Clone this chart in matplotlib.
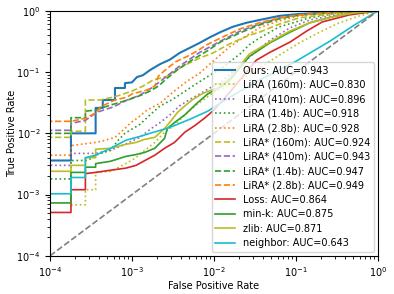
import matplotlib
matplotlib.use('Agg')
import matplotlib.pyplot as plt

# ROC curves (fpr, tpr pairs)
ours_fpr = [9e-5, 1.8e-4, 1.8e-4, 3.6e-4, 3.6e-4, 4.4e-4, 4.4e-4, 6.2e-4, 6.2e-4, 8.2e-4, 8.2e-4, 1.0e-3,
            1.15e-3, 1.36e-3, 1.66e-3, 2.2e-3, 2.9e-3, 3.8e-3, 5.1e-3, 6.7e-3, 8.9e-3, 1.2e-2, 1.7e-2,
            2.5e-2, 3.6e-2, 6.3e-2, 0.11, 0.34, 1.0]
ours_tpr = [0.0036, 0.0036, 0.010, 0.010, 0.026, 0.026, 0.035, 0.035, 0.055, 0.055, 0.066, 0.068,
            0.083, 0.089, 0.108, 0.135, 0.16, 0.205, 0.25, 0.30, 0.37, 0.45, 0.55,
            0.64, 0.71, 0.83, 0.89, 0.96, 1.0]

lira160_fpr = [1.8e-4, 2.7e-4, 2.7e-4, 3.6e-4, 3.6e-4, 5.5e-4, 8.4e-4, 1.12e-3, 1.44e-3, 1.9e-3, 2.5e-3,
               3.3e-3, 4.4e-3, 5.9e-3, 7.8e-3, 1.0e-2, 2.1e-2, 3.6e-2, 6.3e-2, 0.11, 0.195, 0.34, 0.60, 1.0]
lira160_tpr = [0.00068, 0.00068, 0.0012, 0.0012, 0.0023, 0.0024, 0.0032, 0.0040, 0.0053, 0.0071, 0.0104,
               0.0135, 0.0198, 0.028, 0.037, 0.047, 0.074, 0.116, 0.19, 0.30, 0.45, 0.64, 0.83, 1.0]

lira410_fpr = [9e-5, 1.8e-4, 1.8e-4, 3.6e-4, 5.5e-4, 8.2e-4, 1.25e-3, 1.66e-3, 2.2e-3, 2.9e-3, 3.8e-3,
               5.1e-3, 6.7e-3, 8.9e-3, 1.2e-2, 1.9e-2, 3.3e-2, 4.8e-2, 8.5e-2, 0.148, 0.34, 1.0]
lira410_tpr = [0.0030, 0.0030, 0.0047, 0.0047, 0.0053, 0.0066, 0.0086, 0.0116, 0.015, 0.020, 0.028,
               0.036, 0.044, 0.055, 0.068, 0.116, 0.22, 0.33, 0.53, 0.71, 0.89, 1.0]

lira14_fpr = [9e-5, 1.8e-4, 1.8e-4, 2.9e-4, 3.6e-4, 5.5e-4, 6.6e-4, 8.2e-4, 1.25e-3, 1.66e-3, 2.2e-3,
              3.15e-3, 5.5e-3, 8.9e-3, 1.2e-2, 2.1e-2, 2.7e-2, 3.6e-2, 6.3e-2, 0.148, 0.34, 1.0]
lira14_tpr = [0.0018, 0.0018, 0.0036, 0.0036, 0.0044, 0.0053, 0.0074, 0.010, 0.014, 0.020, 0.028,
              0.036, 0.059, 0.089, 0.112, 0.20, 0.28, 0.36, 0.55, 0.77, 0.93, 1.0]

lira28_fpr = [9e-5, 1.8e-4, 1.8e-4, 3.6e-4, 4.7e-4, 6.2e-4, 8.2e-4, 9.7e-4, 1.18e-3, 1.53e-3, 2.2e-3,
              3.15e-3, 4.7e-3, 6.7e-3, 8.9e-3, 1.56e-2, 2.7e-2, 3.6e-2, 6.3e-2, 0.11, 0.34, 1.0]
lira28_tpr = [0.0044, 0.0044, 0.0063, 0.0071, 0.0077, 0.0086, 0.012, 0.015, 0.018, 0.024, 0.031,
              0.047, 0.071, 0.096, 0.135, 0.26, 0.42, 0.53, 0.69, 0.83, 0.96, 1.0]

liras160_fpr = [9e-5, 1.8e-4, 1.8e-4, 2.7e-4, 2.7e-4, 4.1e-4, 5.9e-4, 7.1e-4, 1.0e-3, 1.36e-3, 1.8e-3,
                2.7e-3, 3.5e-3, 4.7e-3, 6.7e-3, 9.7e-3, 1.56e-2, 2.7e-2, 3.6e-2, 6.3e-2, 0.11, 0.26, 1.0]
liras160_tpr = [0.0086, 0.0086, 0.0108, 0.0108, 0.035, 0.035, 0.039, 0.042, 0.049, 0.059, 0.074,
                0.086, 0.108, 0.135, 0.17, 0.205, 0.29, 0.40, 0.45, 0.61, 0.77, 0.89, 1.0]

liras410_fpr = [9e-5, 1.8e-4, 1.8e-4, 2.7e-4, 3.7e-4, 5.9e-4, 8.7e-4, 1.25e-3, 1.8e-3, 2.4e-3, 3.8e-3,
                6.7e-3, 1.2e-2, 2.1e-2, 3.6e-2, 6.3e-2, 0.11, 0.34, 1.0]
liras410_tpr = [0.0112, 0.0112, 0.0145, 0.0163, 0.022, 0.027, 0.035, 0.042, 0.057, 0.077, 0.125,
                0.21, 0.32, 0.47, 0.61, 0.77, 0.86, 0.96, 1.0]

liras14_fpr = [9e-5, 1.8e-4, 1.8e-4, 2.7e-4, 2.7e-4, 3.6e-4, 5.5e-4, 8.9e-4, 1.29e-3, 1.66e-3, 2.1e-3,
               2.7e-3, 3.8e-3, 5.5e-3, 8.2e-3, 1.2e-2, 2.1e-2, 3.6e-2, 6.3e-2, 0.11, 0.34, 1.0]
liras14_tpr = [0.010, 0.010, 0.018, 0.018, 0.023, 0.024, 0.029, 0.035, 0.042, 0.049, 0.059,
               0.080, 0.116, 0.16, 0.22, 0.31, 0.44, 0.59, 0.74, 0.86, 0.96, 1.0]

liras28_fpr = [9e-5, 1.8e-4, 2.7e-4, 3.7e-4, 4.1e-4, 6.2e-4, 8.7e-4, 1.0e-3, 1.53e-3, 1.9e-3, 2.1e-3,
               2.7e-3, 3.5e-3, 4.7e-3, 6.2e-3, 8.2e-3, 1.2e-2, 2.1e-2, 3.6e-2, 6.3e-2, 0.11, 0.34, 1.0]
liras28_tpr = [0.0157, 0.0157, 0.0176, 0.022, 0.027, 0.035, 0.039, 0.044, 0.051, 0.059, 0.086,
               0.116, 0.15, 0.18, 0.22, 0.28, 0.36, 0.51, 0.64, 0.77, 0.86, 0.96, 1.0]

loss_fpr = [9e-5, 1.8e-4, 1.8e-4, 2.7e-4, 2.7e-4, 3.6e-4, 5.5e-4, 8.4e-4, 1.12e-3, 1.44e-3, 1.9e-3, 2.5e-3,
            3.3e-3, 4.4e-3, 5.9e-3, 7.8e-3, 1.0e-2, 1.56e-2, 3.3e-2, 4.8e-2, 8.5e-2, 0.136, 0.21, 0.45, 1.0]
loss_tpr = [0.00051, 0.00051, 0.0012, 0.0012, 0.0022, 0.0023, 0.0025, 0.0027, 0.0030, 0.0036, 0.0044, 0.0057,
            0.0071, 0.0104, 0.0135, 0.018, 0.024, 0.047, 0.157, 0.21, 0.31, 0.47, 0.66, 0.86, 1.0]

mink_fpr = [9e-5, 1.8e-4, 1.8e-4, 2.7e-4, 2.7e-4, 3.6e-4, 3.6e-4, 5.5e-4, 8.4e-4, 1.12e-3, 1.44e-3, 1.9e-3,
            2.5e-3, 2.7e-3, 3.3e-3, 4.4e-3, 6.2e-3, 8.4e-3, 1.2e-2, 1.56e-2, 2.7e-2, 4.8e-2, 8.5e-2,
            0.148, 0.28, 0.52, 1.0]
mink_tpr = [0.00073, 0.00073, 0.0023, 0.0023, 0.0028, 0.0028, 0.0032, 0.0035, 0.0042, 0.0045, 0.0049, 0.0057,
            0.0083, 0.012, 0.015, 0.020, 0.031, 0.044, 0.057, 0.074, 0.18, 0.30, 0.45,
            0.64, 0.80, 0.93, 1.0]

zlib_fpr = [9e-5, 1.8e-4, 1.8e-4, 2.7e-4, 2.7e-4, 3.6e-4, 3.6e-4, 5.5e-4, 8.4e-4, 1.12e-3, 1.44e-3, 1.9e-3,
            2.5e-3, 3.1e-3, 3.6e-3, 4.4e-3, 5.4e-3, 7.3e-3, 1.1e-2, 1.56e-2, 2.7e-2, 4.8e-2, 8.5e-2,
            0.148, 0.28, 0.52, 1.0]
zlib_tpr = [0.0024, 0.0024, 0.0030, 0.0030, 0.0040, 0.0040, 0.0055, 0.0057, 0.0066, 0.0071, 0.0080, 0.0086,
            0.012, 0.017, 0.022, 0.028, 0.035, 0.045, 0.055, 0.080, 0.197, 0.31, 0.47,
            0.64, 0.80, 0.93, 1.0]

neigh_fpr = [9e-5, 1.8e-4, 1.8e-4, 2.7e-4, 2.7e-4, 3.6e-4, 5.5e-4, 8.4e-4, 1.25e-3, 1.66e-3, 2.9e-3,
             5.1e-3, 8.4e-3, 1.56e-2, 3.6e-2, 0.10, 0.26, 0.52, 1.0]
neigh_tpr = [0.00103, 0.00103, 0.0019, 0.0019, 0.0040, 0.0044, 0.0057, 0.0077, 0.0089, 0.010, 0.0125,
             0.017, 0.023, 0.039, 0.074, 0.15, 0.32, 0.59, 1.0]

curves = [
    (ours_fpr, ours_tpr, 'Ours: AUC=0.943', 'C0', '-', 1.5),
    (lira160_fpr, lira160_tpr, 'LiRA (160m): AUC=0.830', 'C8', ':', 1.2),
    (lira410_fpr, lira410_tpr, 'LiRA (410m): AUC=0.896', 'C4', ':', 1.2),
    (lira14_fpr, lira14_tpr, 'LiRA (1.4b): AUC=0.918', 'C2', ':', 1.2),
    (lira28_fpr, lira28_tpr, 'LiRA (2.8b): AUC=0.928', 'C1', ':', 1.2),
    (liras160_fpr, liras160_tpr, 'LiRA* (160m): AUC=0.924', 'C8', '--', 1.2),
    (liras410_fpr, liras410_tpr, 'LiRA* (410m): AUC=0.943', 'C4', '--', 1.2),
    (liras14_fpr, liras14_tpr, 'LiRA* (1.4b): AUC=0.947', 'C2', '--', 1.2),
    (liras28_fpr, liras28_tpr, 'LiRA* (2.8b): AUC=0.949', 'C1', '--', 1.2),
    (loss_fpr, loss_tpr, 'Loss: AUC=0.864', 'C3', '-', 1.2),
    (mink_fpr, mink_tpr, 'min-k: AUC=0.875', 'C2', '-', 1.2),
    (zlib_fpr, zlib_tpr, 'zlib: AUC=0.871', 'C8', '-', 1.2),
    (neigh_fpr, neigh_tpr, 'neighbor: AUC=0.643', 'C9', '-', 1.2),
]

fig = plt.figure(figsize=(3.94, 2.94), dpi=100)
ax = fig.add_axes([0.127, 0.130, 0.832, 0.833])

for fpr, tpr, label, color, ls, lw in curves:
    ax.plot(fpr, tpr, label=label, color=color, linestyle=ls, linewidth=lw)

ax.plot([1e-4, 1], [1e-4, 1], color='gray', linestyle='--', linewidth=1.2)

ax.set_xscale('log')
ax.set_yscale('log')
ax.set_xlim(1e-4, 1)
ax.set_ylim(1e-4, 1)
ax.tick_params(labelsize=7)
ax.set_xlabel('False Positive Rate', fontsize=7, labelpad=1)
ax.set_ylabel('True Positive Rate', fontsize=7, labelpad=-0.5)
ax.legend(loc='lower right', fontsize=7, labelspacing=0.45, borderaxespad=0.4)

plt.savefig('out.png', dpi=100)
